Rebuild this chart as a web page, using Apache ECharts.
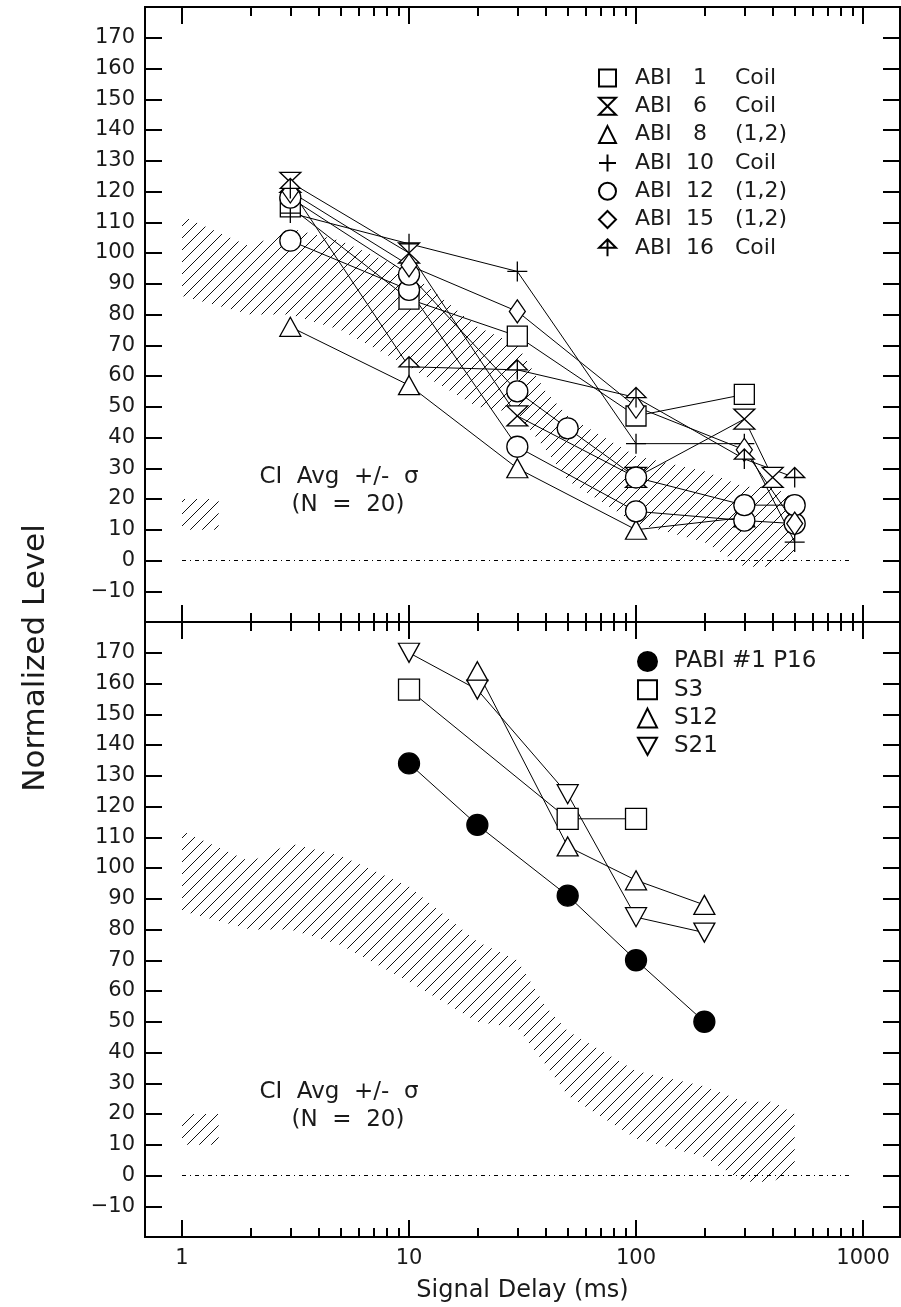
<!DOCTYPE html>
<html>
<head>
<meta charset="utf-8">
<script src="https://cdn.jsdelivr.net/npm/echarts@6/dist/echarts.min.js"></script>
<style>
html, body { margin: 0; padding: 0; background: #fff; }
#chart { width: 901px; height: 1307px; }
</style>
</head>
<body>
<div id="chart"></div>
<script>
// axis ticks
var xMajor = [1, 10, 100, 1000];
var xMinor = [2, 3, 4, 5, 6, 7, 8, 9, 20, 30, 40, 50, 60, 70, 80, 90, 200, 300, 400, 500, 600, 700, 800, 900];

// CI average +/- sigma band (same in both panels)
var bandX     = [1, 2, 3, 5, 10, 20, 30, 40, 50, 100, 200, 300, 400, 500];
var bandUpper = [112, 102, 108, 104, 94, 76, 70, 55, 47, 34, 29, 24, 24, 20];
var bandLower = [86, 80, 80, 75, 63, 50, 48, 36, 26, 12, 6, -2, -2, 2];
var swatchX = [1, 1.45];
var swatchY = [10, 20];
var zeroX = [1, 900];

// top panel: ABI patients
var abiNum = ['1', '6', '8', '10', '12', '15', '16'];
var abiTag = ['Coil', 'Coil', '(1,2)', 'Coil', '(1,2)', '(1,2)', 'Coil'];
var abi1X  = [3, 10, 30, 100, 300];
var abi1Y  = [115, 85, 73, 47, 54];
var abi6X  = [3, 10, 30, 100, 300, 400];
var abi6Y  = [123, 100, 47, 27, 46, 27];
var abi8X  = [3, 10, 30, 100, 300];
var abi8Y  = [76, 57, 30, 10, 14];
var abi10X = [3, 10, 30, 100, 300, 500];
var abi10Y = [113, 103, 94, 38, 38, 6];
var abi12X = [3, 10, 30, 100, 300, 500];
var abi12Y = [104, 88, 37, 16, 13, 12];
var abi12bX = [3, 10, 30, 50, 100, 300, 500];
var abi12bY = [118, 93, 55, 43, 27, 18, 18];
var abi15X = [3, 10, 30, 100, 300, 500];
var abi15Y = [120, 96, 81, 50, 36, 12];
var abi16X = [3, 10, 30, 100, 300, 500];
var abi16Y = [121, 63, 62, 53, 33, 27];

// bottom panel
var pabiX = [10, 20, 50, 100, 200];
var pabiY = [134, 114, 91, 70, 50];
var s3X   = [10, 50, 100];
var s3Y   = [158, 116, 116];
var s12X  = [20, 50, 100, 200];
var s12Y  = [164, 107, 96, 88];
var s21X  = [10, 20, 50, 100, 200];
var s21Y  = [170, 158, 124, 84, 79];

var HOUR = 'path://M0,0L20,0L0,20L20,20Z';
var PLUS = 'path://M10,0L10,20M0,10L20,10';
var ARROW = 'path://M10,0L20,10L0,10ZM10,0L10,20';
var DOWN = 'path://M0,0L20,0L10,18Z';

var FONT = 'DejaVu Sans';
var INK = '#1a1a1a';

function pairs(xs, ys) {
    return xs.map(function (x, i) { return [x, ys[i]]; });
}

// crisp 1px diagonal hatch tile
var T = 12;
var hatch = document.createElement('canvas');
hatch.width = T;
hatch.height = T;
(function () {
    var c = hatch.getContext('2d');
    c.fillStyle = '#111';
    for (var i = 0; i < T; i++) c.fillRect(i, T - 1 - i, 1, 1);
})();
var hatchFill = { image: hatch, repeat: 'repeat' };

function bandItem(params, api) {
    var pts = [];
    for (var i = 0; i < bandX.length; i++) pts.push(api.coord([bandX[i], bandUpper[i]]));
    for (var j = bandX.length - 1; j >= 0; j--) pts.push(api.coord([bandX[j], bandLower[j]]));
    return { type: 'polygon', shape: { points: pts }, style: { fill: hatchFill, stroke: null } };
}

function swatchItem(params, api) {
    var a = api.coord([swatchX[0], swatchY[1]]);
    var b = api.coord([swatchX[1], swatchY[0]]);
    return { type: 'rect', shape: { x: a[0], y: a[1], width: b[0] - a[0], height: b[1] - a[1] }, style: { fill: hatchFill, stroke: null } };
}

function xAxes(g, labels) {
    var list = [];
    ['bottom', 'top'].forEach(function (pos) {
        [xMajor, xMinor].forEach(function (vals, k) {
            var ax = {
                type: 'log', logBase: 10, gridIndex: g, position: pos,
                min: 0.687, max: 1455,
                splitLine: { show: false },
                axisLine: { show: true, onZero: false, lineStyle: { color: '#000', width: 2 } },
                axisTick: { show: true, inside: true, length: k === 0 ? 17 : 9, customValues: vals, lineStyle: { color: '#000', width: 2 } },
                axisLabel: { show: false }
            };
            if (labels && pos === 'bottom' && k === 0) {
                ax.axisLabel = {
                    show: true, customValues: xMajor, margin: 11, fontFamily: FONT, fontSize: 21, color: INK,
                    formatter: function (v) { return String(Math.round(v)); }
                };
                ax.name = 'Signal Delay (ms)';
                ax.nameLocation = 'middle';
                ax.nameGap = 42;
                ax.nameTextStyle = { fontFamily: FONT, fontSize: 24, color: INK };
            }
            list.push(ax);
        });
    });
    return list;
}

function yAxes(g) {
    return ['left', 'right'].map(function (pos) {
        return {
            type: 'value', gridIndex: g, position: pos,
            min: -20, max: 180, interval: 10,
            splitLine: { show: false },
            axisLine: { show: true, lineStyle: { color: '#000', width: 2 } },
            axisTick: { show: true, inside: true, length: 17, lineStyle: { color: '#000', width: 2 } },
            axisLabel: {
                show: pos === 'left', showMinLabel: false, showMaxLabel: false,
                margin: 10, fontFamily: FONT, fontSize: 21, color: INK,
                formatter: function (v) { return v < 0 ? '\u2212' + (-v) : String(v); }
            }
        };
    });
}

function lineSeries(name, xs, ys, xi, yi, symbol, size, fill) {
    return {
        name: name, type: 'line', xAxisIndex: xi, yAxisIndex: yi,
        data: pairs(xs, ys),
        symbol: symbol, symbolSize: size, showAllSymbol: true,
        lineStyle: { color: '#000', width: 1 },
        itemStyle: { color: fill || '#fff', borderColor: '#000', borderWidth: 1.3 },
        emphasis: { disabled: true },
        z: 3
    };
}

function backdrop(xi, yi) {
    return [
        { type: 'custom', xAxisIndex: xi, yAxisIndex: yi, data: [[1, 0]], renderItem: bandItem, silent: true, z: 1 },
        { type: 'custom', xAxisIndex: xi, yAxisIndex: yi, data: [[1, 0]], renderItem: swatchItem, silent: true, z: 1 },
        {
            type: 'line', xAxisIndex: xi, yAxisIndex: yi, data: pairs(zeroX, [0, 0]), symbol: 'none',
            lineStyle: { color: '#000', width: 1, type: [4, 4, 1, 4] }, silent: true, z: 2
        }
    ];
}

var topNames = abiNum.map(function (n, i) { return 'ABI ' + n + ' ' + abiTag[i]; });
var topSymbols = ['rect', HOUR, 'triangle', PLUS, 'circle', 'diamond', ARROW];
var botNames = ['PABI #1 P16', 'S3', 'S12', 'S21'];
var botSymbols = ['circle', 'rect', 'triangle', DOWN];

var series = [].concat(
    backdrop(0, 0),
    backdrop(4, 2),
    [
        lineSeries(topNames[0], abi1X, abi1Y, 0, 0, 'rect', 20),
        lineSeries(topNames[1], abi6X, abi6Y, 0, 0, HOUR, [21, 20]),
        lineSeries(topNames[2], abi8X, abi8Y, 0, 0, 'triangle', [21, 19]),
        lineSeries(topNames[3], abi10X, abi10Y, 0, 0, PLUS, 20),
        lineSeries(topNames[4], abi12X, abi12Y, 0, 0, 'circle', 21),
        lineSeries('ABI 12 (1,2) b', abi12bX, abi12bY, 0, 0, 'circle', 21),
        lineSeries(topNames[5], abi15X, abi15Y, 0, 0, 'diamond', [16, 23]),
        lineSeries(topNames[6], abi16X, abi16Y, 0, 0, ARROW, [20, 20]),
        lineSeries(botNames[0], pabiX, pabiY, 4, 2, 'circle', 21, '#000'),
        lineSeries(botNames[1], s3X, s3Y, 4, 2, 'rect', 21),
        lineSeries(botNames[2], s12X, s12Y, 4, 2, 'triangle', [21, 19]),
        lineSeries(botNames[3], s21X, s21Y, 4, 2, DOWN, [21, 19])
    ]
);

var topNumMap = {};
topNames.forEach(function (n, i) { topNumMap[n] = i; });

var richBase = { fontFamily: FONT, fontSize: 22, color: INK, lineHeight: 17 };

var myChart = echarts.init(document.getElementById('chart'));
myChart.setOption({
    animation: false,
    backgroundColor: '#fff',
    grid: [
        { left: 145, right: 1, top: 7, height: 615 },
        { left: 145, right: 1, top: 622, height: 615 }
    ],
    xAxis: xAxes(0, false).concat(xAxes(1, true)),
    yAxis: yAxes(0).concat(yAxes(1)),
    legend: [
        {
            orient: 'vertical', left: 598, top: 67, padding: 0,
            itemWidth: 17, itemHeight: 17, itemGap: 6.3, selectedMode: false,
            data: topNames.map(function (n, i) { return { name: n, icon: topSymbols[i] }; }),
            formatter: function (name) {
                var i = topNumMap[name];
                return '{a|ABI}{n|' + abiNum[i] + '}{c|' + abiTag[i] + '}';
            },
            textStyle: {
                fontFamily: FONT, fontSize: 22, color: INK, lineHeight: 17,
                rich: {
                    a: Object.assign({ padding: [0, 0, 0, 14], width: 50 }, richBase),
                    n: Object.assign({ width: 30, align: 'right' }, richBase),
                    c: Object.assign({ padding: [0, 0, 0, 20] }, richBase)
                }
            }
        },
        {
            orient: 'vertical', left: 637, top: 650, padding: 0,
            itemWidth: 19, itemHeight: 19, itemGap: 5.3, selectedMode: false,
            data: botNames.map(function (n, i) { return { name: n, icon: botSymbols[i] }; }),
            formatter: function (name) { return '{t|' + name + '}'; },
            textStyle: {
                fontFamily: FONT, fontSize: 23, color: INK, lineHeight: 19,
                rich: { t: { fontFamily: FONT, fontSize: 23, color: INK, lineHeight: 19, padding: [0, 0, 0, 12] } }
            }
        }
    ],
    graphic: [
        { type: 'text', x: 339, y: 477, style: { text: 'CI  Avg  +/-  \u03c3', font: '23px ' + FONT, fill: INK, align: 'center', verticalAlign: 'middle' } },
        { type: 'text', x: 348, y: 505, style: { text: '(N  =  20)', font: '23px ' + FONT, fill: INK, align: 'center', verticalAlign: 'middle' } },
        { type: 'text', x: 339, y: 1092, style: { text: 'CI  Avg  +/-  \u03c3', font: '23px ' + FONT, fill: INK, align: 'center', verticalAlign: 'middle' } },
        { type: 'text', x: 348, y: 1120, style: { text: '(N  =  20)', font: '23px ' + FONT, fill: INK, align: 'center', verticalAlign: 'middle' } },
        { type: 'text', x: 36, y: 658, rotation: Math.PI / 2, style: { text: 'Normalized Level', font: '31px ' + FONT, fill: INK, align: 'center', verticalAlign: 'middle' } }
    ],
    series: series
});
</script>
</body>
</html>
